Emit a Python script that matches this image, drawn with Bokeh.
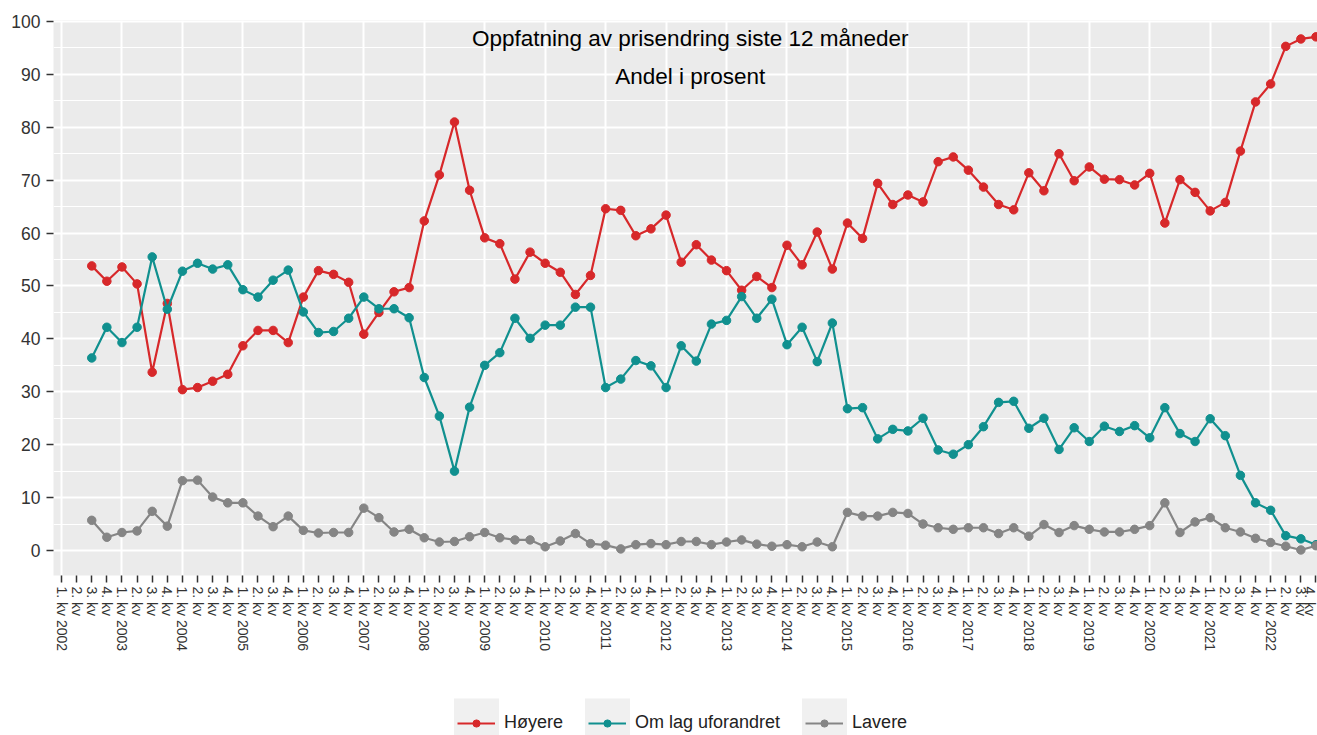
import math
from bokeh.plotting import figure
from bokeh.layouts import column
from bokeh.models import (Range1d, FixedTicker, Label, Legend, LegendItem, BoxAnnotation)
from bokeh.embed import file_html
from bokeh.resources import INLINE

# ---------------- data ----------------
years = list(range(2002, 2023))
periods = [(y, q) for y in years for q in range(1, 5)]
quarter_labels = [f"{q}. kv {y}" if q == 1 else f"{q}. kv" for (y, q) in periods]

first_obs = (2002, 3)

hoyere = [53.8, 50.9, 53.6, 50.4, 33.7, 46.7, 30.4, 30.8, 32.0, 33.3, 38.7, 41.6,
          41.6, 39.3, 47.9, 52.9, 52.2, 50.7, 40.9, 45.0, 48.9, 49.7, 62.3, 71.0,
          81.0, 68.1, 59.1, 58.0, 51.3, 56.4, 54.3, 52.6, 48.4, 52.0, 64.6, 64.3,
          59.5, 60.8, 63.4, 54.5, 57.8, 54.9, 52.9, 49.2, 51.8, 49.7, 57.7, 54.0,
          60.2, 53.2, 61.9, 59.0, 69.4, 65.4, 67.2, 65.9, 73.5, 74.4, 71.9, 68.7,
          65.4, 64.4, 71.4, 68.0, 75.0, 69.9, 72.5, 70.2, 70.1, 69.1, 71.3, 61.9,
          70.1, 67.7, 64.2, 65.8, 75.5, 84.8, 88.2, 95.3, 96.7, 97.1]

uforandret = [36.4, 42.2, 39.3, 42.2, 55.5, 45.6, 52.8, 54.3, 53.2, 54.0, 49.3, 47.9,
              51.1, 53.0, 45.1, 41.2, 41.4, 43.9, 47.9, 45.7, 45.7, 44.0, 32.7, 25.4,
              15.0, 27.1, 35.0, 37.4, 43.9, 40.1, 42.6, 42.6, 46.0, 46.0, 30.8, 32.4,
              35.9, 34.9, 30.8, 38.7, 35.8, 42.8, 43.5, 48.0, 43.9, 47.5, 38.9, 42.2,
              35.7, 43.0, 26.8, 27.0, 21.1, 22.9, 22.6, 25.0, 19.0, 18.2, 20.0, 23.4,
              28.0, 28.2, 23.1, 25.0, 19.1, 23.2, 20.6, 23.5, 22.5, 23.6, 21.3, 27.0,
              22.1, 20.6, 24.9, 21.7, 14.2, 9.0, 7.6, 2.8, 2.2, 1.1]

lavere = [5.7, 2.5, 3.4, 3.7, 7.4, 4.6, 13.2, 13.3, 10.1, 9.0, 9.0, 6.5,
          4.5, 6.5, 3.8, 3.3, 3.4, 3.4, 8.0, 6.2, 3.5, 4.0, 2.4, 1.6,
          1.7, 2.6, 3.4, 2.4, 2.0, 2.0, 0.7, 1.8, 3.2, 1.3, 1.0, 0.3,
          1.1, 1.3, 1.1, 1.7, 1.7, 1.1, 1.6, 2.0, 1.2, 0.8, 1.1, 0.7,
          1.6, 0.7, 7.2, 6.5, 6.5, 7.2, 7.0, 5.0, 4.3, 4.0, 4.3, 4.3,
          3.2, 4.3, 2.7, 4.9, 3.4, 4.7, 4.0, 3.5, 3.5, 4.0, 4.7, 9.0,
          3.4, 5.4, 6.2, 4.3, 3.5, 2.3, 1.5, 0.8, 0.1, 0.9]

series_names = ["Høyere", "Om lag uforandret", "Lavere"]
series_colors = ["#d7282a", "#10908f", "#858585"]

y_ticks = list(range(0, 101, 10))
title_text = "Oppfatning av prisendring siste 12 måneder"
subtitle_text = "Andel i prosent"

# ---------------- main plot ----------------
start = periods.index(first_obs)
x = list(range(start, start + len(hoyere)))
series_values = [hoyere, uforandret, lavere]

FONT = "Liberation Sans"
W = 1317
LEG_H = 40
LEFT = 53

p = figure(width=W, height=735 - LEG_H, output_backend="svg", toolbar_location=None,
           x_range=Range1d(-0.53, 83.1), y_range=Range1d(-4.73, 100.19),
           min_border_left=LEFT, min_border_right=0, min_border_top=20,
           min_border_bottom=120)

p.background_fill_color = "#EBEBEB"
p.border_fill_color = "white"
p.outline_line_color = None

p.xaxis.ticker = FixedTicker(ticks=list(range(len(quarter_labels))))
p.xaxis.major_label_overrides = {i: lab for i, lab in enumerate(quarter_labels)}
p.xaxis.major_label_orientation = -math.pi / 2
p.xaxis.major_label_text_font = FONT
p.xaxis.major_label_text_font_size = "14px"
p.xaxis.major_label_text_color = "#333333"
p.xaxis.major_label_standoff = 4
p.xaxis.axis_line_color = None
p.xaxis.major_tick_in = 0
p.xaxis.major_tick_out = 7
p.xaxis.major_tick_line_color = "#333333"
p.xaxis.major_tick_line_width = 1.5
p.xaxis.minor_tick_line_color = None

p.yaxis.ticker = FixedTicker(ticks=y_ticks, minor_ticks=[t + 5 for t in y_ticks[:-1]])
p.yaxis.major_label_text_font = FONT
p.yaxis.major_label_text_font_size = "17.5px"
p.yaxis.major_label_text_color = "#333333"
p.yaxis.major_label_standoff = 6
p.yaxis.axis_line_color = None
p.yaxis.major_tick_in = 0
p.yaxis.major_tick_out = 7
p.yaxis.major_tick_line_color = "#333333"
p.yaxis.major_tick_line_width = 1.5
p.yaxis.minor_tick_line_color = None

p.xgrid.ticker = FixedTicker(ticks=[i for i, (y, q) in enumerate(periods) if q == 1])
p.xgrid.grid_line_color = "white"
p.xgrid.grid_line_width = 2
p.ygrid.grid_line_color = "white"
p.ygrid.grid_line_width = 2
p.ygrid.minor_grid_line_color = "white"
p.ygrid.minor_grid_line_width = 1

for name, vals, col in zip(series_names, series_values, series_colors):
    p.line(x, vals, line_color=col, line_width=2.2)
    p.scatter(x, vals, size=8.5, fill_color=col, line_color=col)

p.add_layout(Label(x=41.6, y=96.8, text=title_text, text_align="center",
                   text_baseline="middle", text_font=FONT,
                   text_font_size="22.5px", text_color="black"))
p.add_layout(Label(x=41.6, y=89.6, text=subtitle_text, text_align="center",
                   text_baseline="middle", text_font=FONT,
                   text_font_size="22.5px", text_color="black"))

# ---------------- legend strip ----------------
# Frame of this strip is aligned with the main frame by the column layout, so its
# x range is set to page pixels LEFT..W; its y range sits far above the data values
# so the legend's carrier renderers stay out of view.
Y0 = 500
pl = figure(width=W, height=LEG_H, output_backend="svg", toolbar_location=None,
            x_range=Range1d(LEFT, W), y_range=Range1d(Y0, Y0 + LEG_H),
            min_border_left=LEFT, min_border_right=0, min_border_top=0, min_border_bottom=0)
pl.xaxis.visible = False
pl.yaxis.visible = False
pl.xgrid.visible = False
pl.ygrid.visible = False
pl.outline_line_color = None
pl.background_fill_color = "white"
pl.border_fill_color = "white"

# light grey key backgrounds (ggplot legend keys)
for cx in [476, 607, 824]:
    pl.add_layout(BoxAnnotation(left=cx - 22.5, right=cx + 22.5, bottom=Y0, top=Y0 + 37,
                                fill_color="#F0F0F0", fill_alpha=1, line_color=None))

items = []
for name, vals, col in zip(series_names, series_values, series_colors):
    lr = pl.line(x, vals, line_color=col, line_width=2.2)
    sr = pl.scatter(x, vals, size=8, fill_color=col, line_color=col)
    items.append(LegendItem(label=name, renderers=[lr, sr]))

legend = Legend(items=items, orientation="horizontal", location=(457 - LEFT, 2))
legend.label_text_font = FONT
legend.label_text_font_size = "18px"
legend.label_text_color = "#222222"
legend.glyph_width = 38
legend.glyph_height = 18
legend.label_height = 20
legend.label_standoff = 9
legend.spacing = 25
legend.padding = 0
legend.margin = 0
legend.border_line_color = None
legend.background_fill_alpha = 0
pl.add_layout(legend, "center")

layout = column(p, pl, spacing=0)
open("out.html", "w").write(file_html(layout, INLINE))
